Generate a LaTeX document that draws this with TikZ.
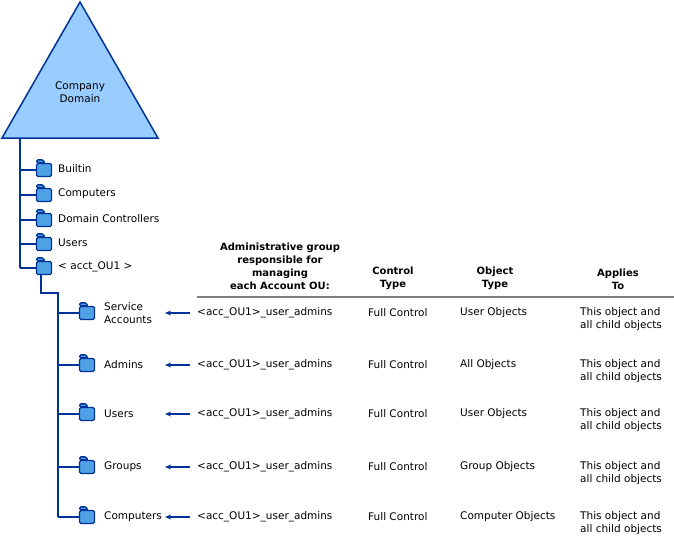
\documentclass[tikz,border=0pt]{standalone}
\usepackage{fontspec}
\setmainfont{DejaVu Sans}
\usetikzlibrary{positioning,arrows.meta}
\definecolor{navy}{RGB}{0,51,153}
\definecolor{skyfill}{RGB}{153,204,255}
\definecolor{foldfill}{RGB}{80,160,230}
\begin{document}
\begin{tikzpicture}[x=1pt,y=-1pt,>=Stealth, every node/.style={font=\fontsize{10.5}{13}\selectfont}]
\tikzset{
  fold/.style={draw=navy, fill=foldfill, line width=1.3pt, rounded corners=1.5pt, minimum width=15pt, minimum height=13pt, inner sep=0pt},
  foldtab/.style={draw=navy, fill=foldfill, line width=1.3pt, rounded corners=1pt},
  tline/.style={draw=navy, line width=1.3pt},
  lbl/.style={anchor=west, align=left, inner sep=0pt},
  hdr/.style={font=\fontsize{10}{13}\selectfont\bfseries, align=center, anchor=south},
  cell/.style={anchor=west, inner sep=0pt},
  ar/.style={-{Stealth[length=6pt,width=5pt]}, draw=navy, line width=1.3pt}
}
\useasboundingbox (0,0) rectangle (674,539);
% domain triangle
\draw[navy, fill=skyfill, line width=1.5pt] (80,2) -- (158,138) -- (2,138) -- cycle;
\node[align=center] (dom) at (80,92) {Company\\Domain};
\coordinate (root) at (20,138);
% top level containers
\foreach \n/\y/\t in {b/170/Builtin, c/195/Computers, dc/220/Domain Controllers, u/244/Users, ou/268/{< acct\_OU1 >}}{
  \node[fold] (f\n) at (44,\y) {};
  \draw[foldtab] (f\n.north west) ++(1pt,0) -- ++(0,3pt) -- ++(6pt,0) -- ++(2pt,-3pt) -- cycle;
  \node[lbl] (l\n) at (58,\y-1) {\t};
  \draw[tline] (20,\y) -- (f\n);
}
\draw[tline] (root) -- (20,268);
\coordinate (sub) at (58,293);
\draw[tline] (fou.south -| 41,0) -- (41,293) -- (sub) -- (58,517);
% account OU children
\foreach \n/\y/\t/\o in {sa/313/{Service\\Accounts}/User Objects, ad/365/Admins/All Objects, us/414/Users/User Objects, gr/467/Groups/Group Objects, co/517/Computers/Computer Objects}{
  \node[fold] (f\n) at (87,\y) {};
  \draw[foldtab] (f\n.north west) ++(1pt,0) -- ++(0,3pt) -- ++(6pt,0) -- ++(2pt,-3pt) -- cycle;
  \node[lbl] (l\n) at (104,\y) {\t};
  \draw[tline] (58,\y) -- (f\n);
  \coordinate (a\n) at (190,\y);
  \coordinate (b\n) at (165,\y);
  \draw[ar] (a\n) -- (b\n);
  \node[cell] (g\n) at (197,\y) {<acc\_OU1>\_user\_admins};
  \node[cell] (c\n) at (368,\y) {Full Control};
  \node[cell] (o\n) at (460,\y) {\o};
  \node[cell, align=left] (p\n) at (580,\y+6) {This object and\\all child objects};
}
% column headers
\node[hdr] (h1) at (280,293) {Administrative group\\responsible for\\managing\\each Account OU:};
\node[hdr] (h2) at (393,293) {Control\\Type};
\node[hdr] (h3) at (495,293) {Object\\Type};
\node[hdr] (h4) at (618,293) {Applies\\To};
\draw[gray, line width=1.3pt] (197,297) -- (674,297);
\end{tikzpicture}
\end{document}
